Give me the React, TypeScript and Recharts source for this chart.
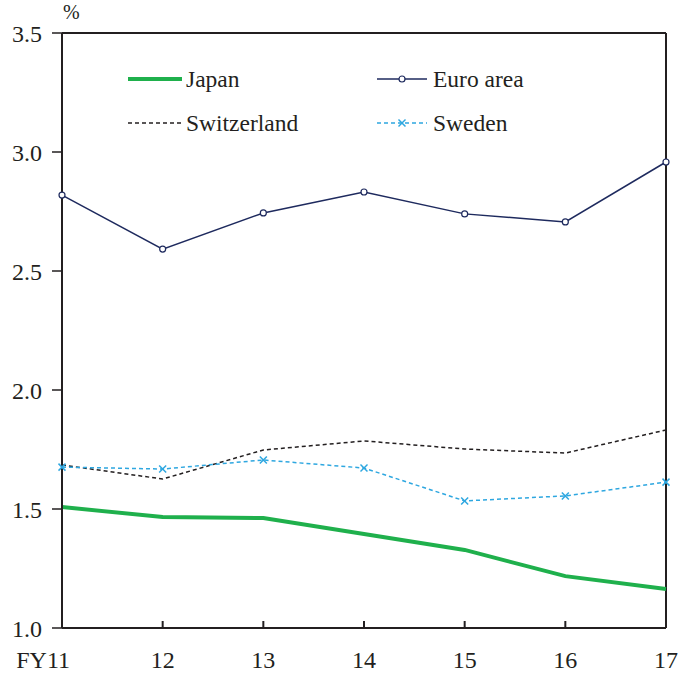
import React from 'react';
import { LineChart, Line, XAxis, YAxis, ReferenceLine } from 'recharts';

const years = ['11', '12', '13', '14', '15', '16', '17'];
const japan = [1.508, 1.466, 1.462, 1.395, 1.328, 1.218, 1.164];
const euroArea = [2.819, 2.592, 2.744, 2.832, 2.74, 2.706, 2.958];
const switzerland = [1.685, 1.626, 1.748, 1.786, 1.752, 1.735, 1.832];
const sweden = [1.676, 1.668, 1.706, 1.672, 1.534, 1.555, 1.613];
const yTicks = [1.0, 1.5, 2.0, 2.5, 3.0, 3.5];

const data = years.map((y, i) => ({
  year: y,
  japan: japan[i],
  euro: euroArea[i],
  swiss: switzerland[i],
  sweden: sweden[i],
}));

const FONT = '"Liberation Serif", "Times New Roman", serif';
const INK = '#231f20';

const XTick = (props: any) => {
  const { x, y, payload, index } = props;
  const first = index === 0;
  return (
    <text
      x={first ? x + 8 : x}
      y={y}
      dy="0.71em"
      textAnchor={first ? 'end' : 'middle'}
      fill={INK}
      fontSize={24}
      fontFamily={FONT}
    >
      {first ? 'FY' + payload.value : payload.value}
    </text>
  );
};

const CrossDot = (props: any) => {
  const { cx, cy } = props;
  if (cx == null || cy == null) return null;
  const s = 3.5;
  return (
    <g stroke="#2ea7e0" strokeWidth={1.5}>
      <line x1={cx - s} y1={cy - s} x2={cx + s} y2={cy + s} />
      <line x1={cx - s} y1={cy + s} x2={cx + s} y2={cy - s} />
    </g>
  );
};

const LegendBox = () => {
  const item = (label: string, icon: React.ReactNode) => (
    <div style={{ display: 'flex', alignItems: 'center', height: 44 }}>
      <svg width={54} height={12} style={{ marginRight: 4 }}>
        {icon}
      </svg>
      <span style={{ fontSize: 23.5, fontFamily: FONT, color: INK }}>{label}</span>
    </div>
  );
  return (
    <div style={{ display: 'grid', gridTemplateColumns: '247px 200px' }}>
      {item('Japan', <line x1={0} y1={6} x2={54} y2={6} stroke="#1fb04c" strokeWidth={4} />)}
      {item(
        'Euro area',
        <g>
          <line x1={2} y1={6} x2={52} y2={6} stroke="#1e2a5e" strokeWidth={1.5} />
          <circle cx={27} cy={6} r={3} fill="#fff" stroke="#1e2a5e" strokeWidth={1.2} />
        </g>
      )}
      {item('Switzerland', <line x1={0} y1={6} x2={54} y2={6} stroke={INK} strokeWidth={1.5} strokeDasharray="4 3" />)}
      {item(
        'Sweden',
        <g>
          <line x1={2} y1={6} x2={52} y2={6} stroke="#2ea7e0" strokeWidth={1.5} strokeDasharray="4 3" />
          <CrossDot cx={27} cy={6} />
        </g>
      )}
    </div>
  );
};

export default function App() {
  return (
    <div style={{ position: 'absolute', left: 0, top: 0, width: 678, height: 677, background: '#fff' }}>
      <LineChart width={678} height={677} data={data} margin={{ top: 33, right: 12, left: 0, bottom: 9 }}>
        <XAxis
          dataKey="year"
          stroke={INK}
          strokeWidth={2}
          tickSize={-7}
          tickMargin={30}
          height={40}
          tick={<XTick />}
          tickLine={{ stroke: INK, strokeWidth: 2 }}
        />
        <YAxis
          domain={[1, 3.5]}
          ticks={yTicks}
          width={62}
          stroke={INK}
          strokeWidth={2}
          tickSize={10}
          tickMargin={10}
          tickFormatter={(v: number) => v.toFixed(1)}
          tick={{ fill: INK, fontSize: 24, fontFamily: FONT }}
          tickLine={{ stroke: INK, strokeWidth: 1.5 }}
        />
        <ReferenceLine y={3.5} stroke={INK} strokeWidth={2} />
        <ReferenceLine x="17" stroke={INK} strokeWidth={2} />
        <Line
          dataKey="japan"
          stroke="#1fb04c"
          strokeWidth={4}
          dot={false}
          isAnimationActive={false}
        />
        <Line
          dataKey="euro"
          stroke="#1e2a5e"
          strokeWidth={1.5}
          dot={{ r: 3, fill: '#fff', stroke: '#1e2a5e', strokeWidth: 1.2 }}
          isAnimationActive={false}
        />
        <Line
          dataKey="swiss"
          stroke={INK}
          strokeWidth={1.5}
          strokeDasharray="4 3"
          dot={false}
          isAnimationActive={false}
        />
        <Line
          dataKey="sweden"
          stroke="#2ea7e0"
          strokeWidth={1.5}
          strokeDasharray="4 3"
          dot={<CrossDot />}
          isAnimationActive={false}
        />
      </LineChart>
      <div style={{ position: 'absolute', left: 63, top: 1, fontSize: 20, fontFamily: FONT, color: INK }}>%</div>
      <div style={{ position: 'absolute', left: 128, top: 57 }}>
        <LegendBox />
      </div>
    </div>
  );
}
